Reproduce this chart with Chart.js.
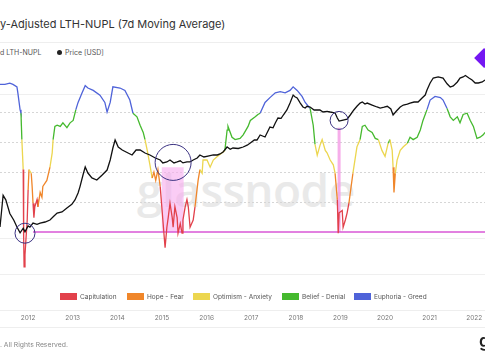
<!DOCTYPE html>
<html>
<head>
<meta charset="utf-8">
<script src="https://cdn.jsdelivr.net/npm/chart.js@4/dist/chart.umd.min.js"></script>
<style>
  body { margin: 0; width: 485px; height: 360px; overflow: hidden; background: #fff; position: relative; font-family: Inter, "Noto Sans", sans-serif; }
  #title { position: absolute; left: 0; top: 17px; font-size: 11px; color: #333; white-space: nowrap; }
  .sep { position: absolute; left: 0; width: 485px; height: 0; border-top: 1px solid #eeeeee; }
  #toplegend { position: absolute; left: 0; top: 48px; font-size: 7px; color: #555; white-space: nowrap; }
  #toplegend .price { position: absolute; left: 57px; }
  #toplegend .dot { display: inline-block; width: 5px; height: 5px; border-radius: 50%; background: #222; margin-right: 3px; vertical-align: 0; }
  #wm { position: absolute; left: 137px; top: 158px; font-family: "Open Sans", sans-serif; font-weight: 600; font-size: 46px; color: #e9e9e9; letter-spacing: -0.5px; }
  #myChart { position: absolute; left: 0; top: 0; }
  #zones { position: absolute; left: 0; top: 293px; width: 485px; height: 10px; font-size: 6.5px; color: #555; }
  #zones .item { position: absolute; top: 0; white-space: nowrap; }
  #zones .box { display: inline-block; width: 17px; height: 7px; margin-right: 3px; vertical-align: -1px; }
  #foot { position: absolute; left: 0; top: 340px; font-size: 6.8px; color: #888; }
  #logo { position: absolute; left: 479px; top: 331px; font-size: 17px; font-weight: 600; color: #222; }
</style>
</head>
<body>
<div id="title">y-Adjusted LTH-NUPL (7d Moving Average)</div>
<div class="sep" style="top:42px"></div>
<div id="toplegend"><span>d LTH-NUPL</span><span class="price"><span class="dot"></span>Price [USD]</span></div>
<div id="wm">glassnode</div>
<canvas id="myChart" width="485" height="330"></canvas>
<div id="zones"></div>
<div class="sep" style="top:310px"></div>
<div class="sep" style="top:327px"></div>
<div id="foot">. All Rights Reserved.</div>
<div id="logo">g</div>
<script>
const tickYears = [2012, 2013, 2014, 2015, 2016, 2017, 2018, 2019, 2020, 2021, 2022];

const zoneNames = ["Capitulation", "Hope - Fear", "Optimism - Anxiety", "Belief - Denial", "Euphoria - Greed"];
const zoneColors = ["#e2414b", "#f0862a", "#ecd64f", "#45b92e", "#4f63d9"];
const zoneLimits = [0, 0.25, 0.5, 0.75];

const nuplTime = [
  2011.37, 2011.48, 2011.59, 2011.66, 2011.75, 2011.77, 2011.82, 2011.84, 2011.86, 2011.89,
  2011.90, 2011.91, 2011.93, 2011.95, 2011.98, 2012.00, 2012.02, 2012.07, 2012.09, 2012.11,
  2012.13, 2012.15, 2012.20, 2012.22, 2012.27, 2012.31, 2012.33, 2012.42, 2012.49, 2012.54,
  2012.56, 2012.60, 2012.65, 2012.72, 2012.78, 2012.87, 2012.94, 2013.01, 2013.07, 2013.12,
  2013.21, 2013.28, 2013.34, 2013.46, 2013.61, 2013.72, 2013.77, 2013.84, 2013.90, 2014.06,
  2014.17, 2014.28, 2014.35, 2014.44, 2014.51, 2014.58, 2014.62, 2014.67, 2014.73, 2014.78,
  2014.82, 2014.86, 2014.91, 2014.96, 2015.02, 2015.07, 2015.11, 2015.14, 2015.18, 2015.23,
  2015.25, 2015.29, 2015.34, 2015.36, 2015.41, 2015.45, 2015.47, 2015.52, 2015.56, 2015.59,
  2015.63, 2015.70, 2015.74, 2015.81, 2015.85, 2015.90, 2015.92, 2016.01, 2016.08, 2016.15,
  2016.24, 2016.35, 2016.41, 2016.46, 2016.48, 2016.57, 2016.64, 2016.75, 2016.82, 2016.93,
  2016.98, 2017.09, 2017.15, 2017.20, 2017.31, 2017.42, 2017.54, 2017.65, 2017.76, 2017.87,
  2017.94, 2018.03, 2018.14, 2018.21, 2018.32, 2018.39, 2018.43, 2018.48, 2018.54, 2018.59,
  2018.66, 2018.70, 2018.77, 2018.84, 2018.88, 2018.93, 2018.95, 2018.97, 2019.04, 2019.06,
  2019.11, 2019.15, 2019.19, 2019.24, 2019.28, 2019.37, 2019.44, 2019.49, 2019.55, 2019.62,
  2019.71, 2019.78, 2019.85, 2019.93, 2020.00, 2020.07, 2020.11, 2020.16, 2020.18, 2020.20,
  2020.23, 2020.27, 2020.34, 2020.41, 2020.50, 2020.56, 2020.63, 2020.72, 2020.79, 2020.85,
  2020.94, 2021.01, 2021.12, 2021.24, 2021.30, 2021.39, 2021.46, 2021.53, 2021.62, 2021.68,
  2021.75, 2021.84, 2021.91, 2021.98, 2022.06, 2022.13, 2022.20, 2022.24
];
const nuplValue = [
  0.98, 0.98, 0.99, 0.98, 0.96, 0.91, 0.77, 0.74, 0.52, 0.27,
  -0.29, -0.54, -0.44, -0.32, -0.15, 0.10, 0.27, 0.24, 0.13, -0.01,
  -0.13, -0.04, 0.02, -0.04, 0.08, 0.04, 0.13, 0.18, 0.29, 0.41,
  0.52, 0.63, 0.64, 0.63, 0.66, 0.62, 0.66, 0.68, 0.77, 0.83,
  0.91, 0.97, 0.95, 0.93, 0.89, 0.83, 0.75, 0.83, 0.96, 0.95,
  0.93, 0.85, 0.74, 0.71, 0.64, 0.58, 0.52, 0.43, 0.31, 0.20,
  0.25, 0.18, 0.27, 0.13, -0.15, -0.38, -0.21, -0.13, -0.01, -0.13,
  -0.21, -0.04, -0.13, -0.26, -0.18, -0.26, -0.15, -0.04, 0.02, -0.04,
  -0.21, -0.15, -0.04, 0.18, 0.27, 0.24, 0.35, 0.35, 0.29, 0.35,
  0.38, 0.41, 0.43, 0.60, 0.63, 0.54, 0.52, 0.53, 0.56, 0.63,
  0.68, 0.71, 0.73, 0.74, 0.83, 0.87, 0.91, 0.92, 0.91, 0.93,
  0.96, 0.93, 0.88, 0.83, 0.78, 0.64, 0.48, 0.39, 0.47, 0.52,
  0.43, 0.41, 0.35, 0.31, 0.24, 0.02, -0.26, -0.09, -0.07, -0.21,
  -0.15, -0.09, -0.01, 0.13, 0.24, 0.46, 0.52, 0.63, 0.64, 0.60,
  0.58, 0.53, 0.52, 0.43, 0.38, 0.49, 0.52, 0.43, 0.29, 0.08,
  0.24, 0.35, 0.43, 0.46, 0.49, 0.54, 0.52, 0.54, 0.60, 0.68,
  0.77, 0.85, 0.88, 0.87, 0.85, 0.78, 0.71, 0.68, 0.71, 0.66,
  0.73, 0.74, 0.68, 0.63, 0.53, 0.54, 0.56, 0.58
];

const priceTime = [
  2011.37, 2011.44, 2011.50, 2011.59, 2011.68, 2011.75, 2011.82, 2011.89, 2011.93, 2012.00,
  2012.04, 2012.11, 2012.20, 2012.27, 2012.38, 2012.49, 2012.58, 2012.65, 2012.76, 2012.87,
  2012.98, 2013.05, 2013.12, 2013.16, 2013.23, 2013.28, 2013.34, 2013.43, 2013.54, 2013.66,
  2013.77, 2013.84, 2013.90, 2013.95, 2014.02, 2014.11, 2014.24, 2014.33, 2014.42, 2014.51,
  2014.62, 2014.73, 2014.85, 2014.96, 2015.02, 2015.11, 2015.18, 2015.27, 2015.34, 2015.41,
  2015.47, 2015.56, 2015.63, 2015.70, 2015.79, 2015.85, 2015.94, 2016.03, 2016.15, 2016.24,
  2016.30, 2016.37, 2016.46, 2016.53, 2016.59, 2016.71, 2016.82, 2016.91, 2016.98, 2017.07,
  2017.13, 2017.20, 2017.31, 2017.42, 2017.49, 2017.54, 2017.60, 2017.67, 2017.72, 2017.80,
  2017.87, 2017.94, 2017.98, 2018.03, 2018.10, 2018.16, 2018.21, 2018.25, 2018.32, 2018.41,
  2018.48, 2018.54, 2018.61, 2018.70, 2018.77, 2018.88, 2018.93, 2018.97, 2019.06, 2019.15,
  2019.22, 2019.30, 2019.37, 2019.44, 2019.49, 2019.55, 2019.60, 2019.71, 2019.82, 2019.89,
  2019.98, 2020.05, 2020.13, 2020.18, 2020.25, 2020.34, 2020.41, 2020.50, 2020.56, 2020.65,
  2020.74, 2020.83, 2020.90, 2020.94, 2021.01, 2021.08, 2021.19, 2021.30, 2021.39, 2021.46,
  2021.53, 2021.62, 2021.68, 2021.75, 2021.80, 2021.88, 2021.95, 2022.02, 2022.09, 2022.18,
  2022.24
];
const priceUsd = [
  4.2, 32, 24, 10, 6.5, 4.2, 2.9, 3.9, 3.1, 4.5,
  4.2, 5.4, 5.0, 5.4, 5.8, 6.6, 8.5, 10.3, 11, 14.2,
  18, 23.7, 37, 54, 117, 196, 133, 97, 85, 117,
  161, 306, 660, 1100, 703, 580, 479, 422, 580, 580,
  479, 422, 348, 306, 254, 270, 306, 254, 270, 290,
  254, 270, 270, 306, 348, 422, 371, 395, 422, 422,
  450, 510, 703, 610, 660, 640, 703, 790, 908, 1100,
  1100, 1517, 1334, 2520, 2400, 3250, 4490, 4400, 5445, 7500,
  11700, 19500, 17500, 16150, 11700, 9090, 8510, 9500, 9090, 7500,
  7500, 7500, 6600, 6900, 6600, 6200, 4500, 3700, 3950, 4200,
  5445, 7500, 9500, 11700, 12500, 11000, 11700, 10300, 9090, 8500,
  9000, 9500, 8000, 5445, 6900, 9090, 10300, 11000, 11700, 12500,
  12500, 16150, 19500, 27000, 42200, 58000, 62000, 58000, 40000, 32600,
  35000, 45000, 58000, 62000, 68000, 58000, 51000, 42200, 42200, 45000,
  51000
];

// annotations
const bandTime = [2014.99, 2015.49];
const bandTop = 0.29;
const supportLevel = -0.25;
const supportStart = 2012.11;
const markerTime = 2018.97;
const markerTop = 0.62;
const circleTime = [2011.93, 2015.25, 2018.97];
const circleValue = [-0.26, 0.33, 0.68];
const circleSize = [10, 18, 9];
const diamondTime = 2022.22;
const diamondValue = 1.2;

const xMin = 2011.37, xMax = 2022.24;

function zoneColor(v) {
  let i = 0;
  while (i < zoneLimits.length && v >= zoneLimits[i]) i++;
  return zoneColors[i];
}

// zone legend
const zoneLeft = [60, 127, 193, 282, 354];
const zonesDiv = document.getElementById("zones");
zoneNames.forEach((name, i) => {
  const el = document.createElement("span");
  el.className = "item";
  el.style.left = zoneLeft[i] + "px";
  el.innerHTML = '<span class="box" style="background:' + zoneColors[i] + '"></span>' + name;
  zonesDiv.appendChild(el);
});

const noWidth = s => { s.width = 0; s.paddingTop = 0; s.paddingBottom = 0; };

const ctx = document.getElementById("myChart").getContext("2d");

new Chart(ctx, {
  type: "line",
  data: {
    datasets: [
      {
        label: "diamond",
        type: "scatter",
        data: [{ x: diamondTime, y: diamondValue }],
        yAxisID: "y",
        pointStyle: "rectRot",
        pointRadius: 10,
        backgroundColor: "#7417f2",
        borderWidth: 0,
        clip: false,
        order: 1
      },
      {
        label: "circles",
        type: "bubble",
        data: circleTime.map((t, i) => ({ x: t, y: circleValue[i], r: circleSize[i] })),
        yAxisID: "y",
        backgroundColor: "rgba(0,0,0,0)",
        borderColor: "#3b3282",
        borderWidth: 1,
        order: 2
      },
      {
        label: "Price [USD]",
        data: priceTime.map((t, i) => ({ x: t, y: priceUsd[i] })),
        yAxisID: "yp",
        borderColor: "#111",
        borderWidth: 1.3,
        pointRadius: 0,
        tension: 0,
        order: 4
      },
      {
        label: "LTH-NUPL",
        data: nuplTime.map((t, i) => ({ x: t, y: nuplValue[i] })),
        yAxisID: "y",
        borderWidth: 1.3,
        pointRadius: 0,
        segment: {
          borderColor: c => zoneColor((c.p0.parsed.y + c.p1.parsed.y) / 2)
        },
        order: 5
      },
      {
        label: "support",
        data: [{ x: supportStart, y: supportLevel }, { x: xMax, y: supportLevel }],
        yAxisID: "y",
        borderColor: "#d957d6",
        borderWidth: 1.5,
        pointRadius: 0,
        order: 8
      },
      {
        label: "marker",
        data: [{ x: markerTime, y: markerTop }, { x: markerTime, y: supportLevel }],
        yAxisID: "y",
        borderColor: "rgba(244,160,230,0.85)",
        borderWidth: 3,
        pointRadius: 0,
        order: 9
      },
      {
        label: "band",
        data: [{ x: bandTime[0], y: bandTop }, { x: bandTime[1], y: bandTop }],
        yAxisID: "y",
        borderWidth: 0,
        pointRadius: 0,
        backgroundColor: "rgba(247,170,238,0.6)",
        fill: { value: supportLevel },
        order: 10
      }
    ]
  },
  options: {
    responsive: false,
    animation: false,
    layout: { autoPadding: false, padding: { top: 44, left: 0, right: 0, bottom: 0 } },
    plugins: { legend: { display: false }, tooltip: { enabled: false } },
    scales: {
      x: {
        type: "linear",
        min: xMin,
        max: xMax,
        grid: { display: false, drawTicks: false },
        border: { display: false },
        afterBuildTicks: s => { s.ticks = tickYears.map(v => ({ value: v })); },
        afterFit: s => { s.height = 50; s.paddingLeft = 0; s.paddingRight = 0; },
        ticks: {
          autoSkip: false,
          maxRotation: 0,
          padding: 34,
          color: "#777",
          font: { family: "Inter", size: 6.5 },
          callback: v => String(v)
        }
      },
      y: {
        position: "left",
        min: -0.65,
        max: 1.317,
        grid: { color: "#d6d6d6", drawTicks: false },
        border: { display: false, dash: [2, 2] },
        ticks: { display: false },
        afterBuildTicks: s => { s.ticks = zoneLimits.map(v => ({ value: v })); },
        afterFit: noWidth
      },
      yg: {
        position: "left",
        min: -0.65,
        max: 1.317,
        grid: { color: "#efefef", drawTicks: false },
        border: { display: false },
        ticks: { display: false },
        afterBuildTicks: s => { s.ticks = [-0.6, -0.3, 0.9].map(v => ({ value: v })); },
        afterFit: noWidth
      },
      yp: {
        type: "logarithmic",
        position: "right",
        min: 0.142,
        max: 511000,
        grid: { display: false, drawTicks: false },
        border: { display: false },
        ticks: { display: false },
        afterFit: noWidth
      }
    }
  }
});
</script>
</body>
</html>
